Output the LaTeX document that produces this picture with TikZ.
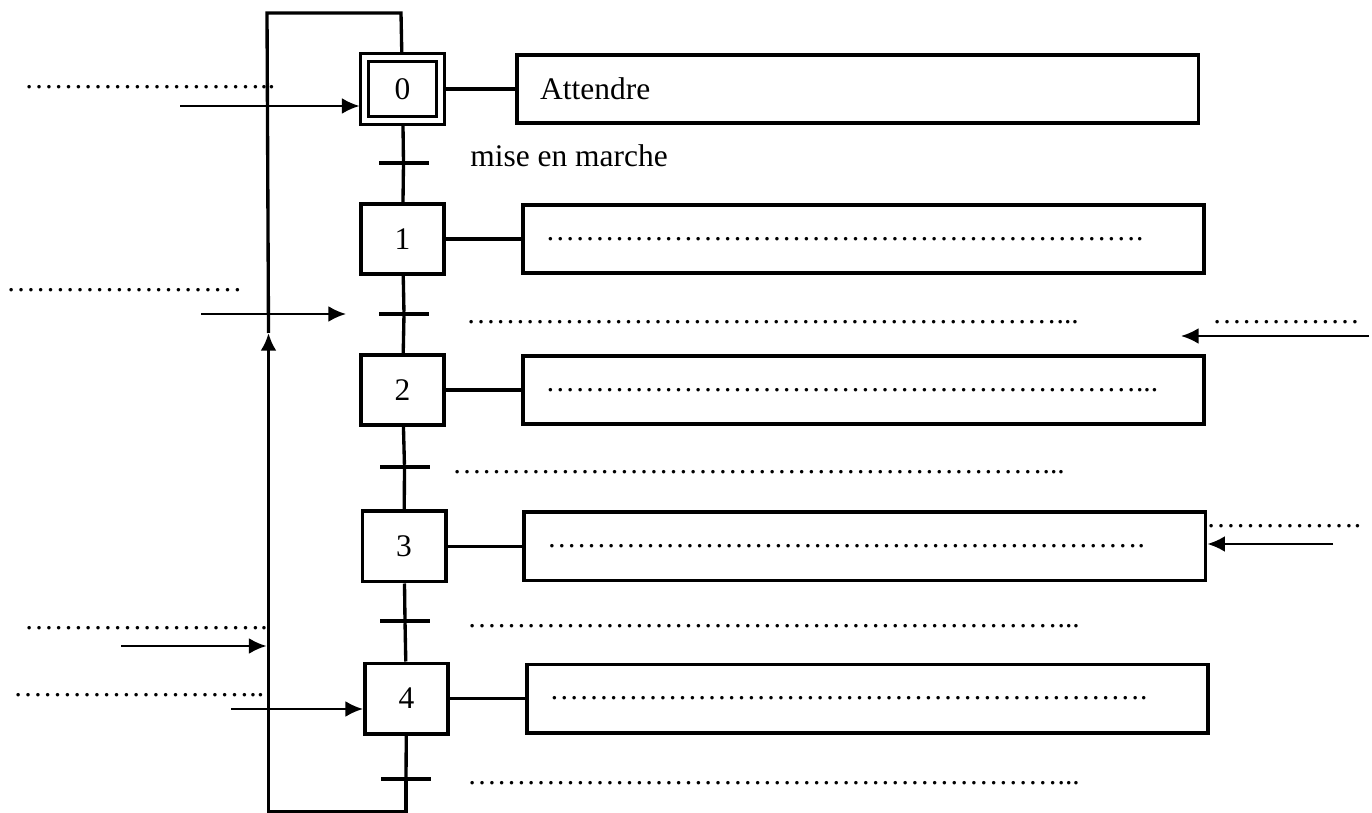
\documentclass[tikz,border=0pt]{standalone}
\usepackage{fontspec}
\setmainfont{Liberation Serif}
\usetikzlibrary{positioning}
\usetikzlibrary{arrows.meta}

\newcommand\cinq{……………}

\begin{document}
\begin{tikzpicture}[x=0.02cm,y=-0.02cm,font=\fontsize{17.9}{20}\selectfont,
  etape/.style={draw,line width=2pt,minimum width=1.67cm,minimum height=1.41cm,inner sep=0pt},
  init/.style={etape,line width=1.8pt,double,double distance=2.3pt,minimum width=1.52cm,minimum height=1.26cm,outer sep=0.1cm},
  action/.style={draw,line width=2pt,minimum height=1.37cm,text width=12.71cm,inner xsep=0.46cm,inner ysep=0pt,align=left},
  barre/.style={fill,minimum width=1cm,minimum height=0.075cm,inner sep=0pt},
  lien/.style={line width=1.9pt},
  pointe/.style={-{Latex[length=10pt,width=9pt]}},
  fleche/.style={line width=1.3pt,pointe},
  petit/.style={font=\fontsize{16.8}{18}\selectfont},
  etiq/.style={inner sep=0pt,anchor=base west},
  pts/.style={etiq,petit}]
\useasboundingbox (0,0) rectangle (1372,813);

\node[init]  (s0) at (402.5,89)    {0};
\node[etape] (s1) at (402.5,239)   {1};
\node[etape] (s2) at (402.5,390)   {2};
\node[etape] (s3) at (404,546.5)   {3};
\node[etape] (s4) at (406.5,698.5) {4};

\node[barre] (t0) at (403.5,163) {};
\node[barre] (t1) at (404,314)   {};
\node[barre] (t2) at (404.5,467) {};
\node[barre] (t3) at (405,621)   {};
\node[barre] (t4) at (406,779)   {};

\node[action,right=1.4cm of s0] (a0) {Attendre};
\node[action,petit,right=1.5cm of s1] (a1) {\cinq\cinq\cinq\cinq.};
\node[action,petit,right=1.5cm of s2] (a2) {\cinq\cinq\cinq\cinq...};
\node[action,petit,right=1.5cm of s3] (a3) {\cinq\cinq\cinq\cinq.};
\node[action,petit,right=1.5cm of s4] (a4) {\cinq\cinq\cinq\cinq.};

\foreach \i in {0,...,4}
  \draw[lien] (s\i) -- (a\i);

\coordinate (b1) at (406,811.5);
\coordinate (b2) at (268.5,811.5);
\coordinate (rt) at (268.5,333);
\coordinate (h1) at (267,13);
\coordinate (h2) at (401,13);

\draw[lien] (s0) -- (t0) -- (s1) -- (t1) -- (s2) -- (t2) -- (s3) -- (t3) -- (s4) -- (t4);
\draw[lien,pointe] (t4) -- (b1) -- (b2) -- (rt);
\draw[lien] (rt) -- (h1) -- (h2) -- (s0);

\node[etiq] (c0) at (470,167) {mise en marche};
\node[pts] (c1) at (466,323.5) {\cinq\cinq\cinq\cinq...};
\node[pts] (c2) at (452,473.5) {\cinq\cinq\cinq\cinq...};
\node[pts] (c3) at (467,627.5) {\cinq\cinq\cinq\cinq...};
\node[pts] (c4) at (467,784.5) {\cinq\cinq\cinq\cinq...};

% receptivites a gauche
\node[pts] (l0) at (24,88.5)  {\cinq………..};
\coordinate (e0) at (180,106);
\draw[fleche] (e0) -- (e0 -| s0.west);

\node[pts] (l1) at (6,291.5)  {\cinq………};
\coordinate (e1) at (201,314);
\coordinate (f1) at (346,314);
\draw[fleche] (e1) -- (f1);

\node[pts] (l3) at (24,629.5) {\cinq……….};
\coordinate (e3) at (121,646);
\coordinate (f3) at (266.5,646);
\draw[fleche] (e3) -- (f3);

\node[pts] (l4) at (13,696.5) {\cinq………..};
\coordinate (e4) at (231,709);
\draw[fleche] (e4) -- (e4 -| s4.west);

% a droite
\node[pts] (d1) at (1212,323.5) {\cinq};
\coordinate (g1) at (1369,336);
\coordinate (k1) at (1181,336);
\draw[fleche] (g1) -- (k1);

\node[pts] (d3) at (1206,527.5) {\cinq.};
\coordinate (g3) at (1333,544);
\draw[fleche] (g3) -- (g3 -| a3.east);
\end{tikzpicture}
\end{document}
